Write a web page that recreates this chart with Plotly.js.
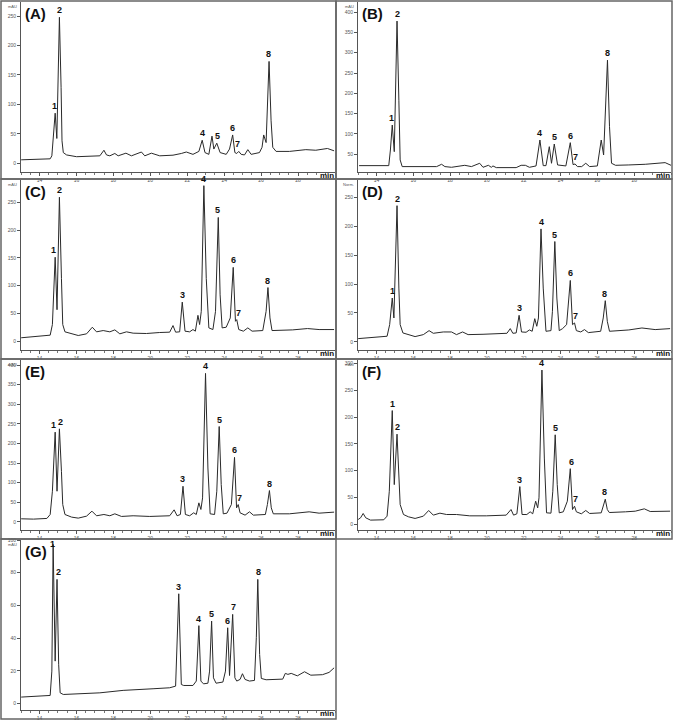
<!DOCTYPE html>
<html><head><meta charset="utf-8">
<script src="https://cdn.plot.ly/plotly-3.0.1.min.js"></script>
<style>html,body{margin:0;padding:0;background:#fff}#chart{width:673px;height:720px}</style>
</head><body><div id="chart"></div>
<script>
// ---- Panel A ----
const tA = [13.01,14.58,14.67,14.76,14.85,14.94,15.08,15.17,15.22,15.29,15.47,16.01,16.91,17.27,17.49,17.63,17.81,18.08,18.26,18.68,18.98,19.52,19.70,20.06,20.51,21.23,21.68,21.95,22.31,22.63,22.81,22.96,23.17,23.34,23.44,23.60,23.78,24.11,24.29,24.46,24.58,24.68,24.79,24.92,25.10,25.28,25.46,25.91,26.05,26.14,26.27,26.43,26.54,26.63,26.81,27.53,28.42,28.96,29.59,29.95];
const yA = [5.7,7.4,12.5,49,85,42,248,129,38,18,14,11,12,12.5,22,14,12.5,16.5,12.5,17,12.5,19,12.5,17,12.5,13.6,16.5,19,15,20,39,18,15,46,24,34,18,15,24,48,18,16.5,20,15,14,23,15,18,27,48,35,173,72,27,20,20,23,22,25,21];
const pkNumA = ["1","2","4","5","6","7","8"];
const pkTA = [14.80,15.06,22.81,23.62,24.46,24.74,26.41];
const pkHA = [85,248,39,34,48,20,173];

// ---- Panel B ----
const tB = [13.06,14.67,14.76,14.86,14.97,15.12,15.22,15.29,15.40,17.27,17.54,17.72,18.08,18.35,18.80,19.16,19.61,19.79,20.08,20.24,20.33,20.51,21.59,21.86,22.09,22.31,22.67,22.88,23.06,23.21,23.39,23.51,23.66,23.84,24.29,24.53,24.68,24.79,24.92,25.15,25.37,25.58,26.00,26.21,26.34,26.55,26.66,26.77,26.99,27.71,28.60,29.68,30.0];
const yB = [21.7,21.7,60.2,121.7,56.1,378,183,35.7,19.3,19.3,25,19.3,17.6,19.3,22.5,19.3,27.5,17.6,22.5,17.6,20.9,16.8,16.8,22.5,22.5,17.6,20.9,84.8,21.7,21.7,68.4,27.5,75,23.4,20.9,78.3,24.2,25.8,19.3,19.3,27.5,19.3,20.9,84.8,48,281.6,117.6,27.5,22.5,23.4,25,29.1,22.5];
const pkNumB = ["1","2","4","5","6","7","8"];
const pkTB = [14.80,15.12,22.88,23.68,24.55,24.83,26.55];
const pkHB = [121.7,378,84.8,75,78.3,25.8,281.6];

// ---- Panel C ----
const tC = [13.01,13.68,14.58,14.70,14.85,14.95,15.08,15.19,15.26,15.38,15.74,16.10,16.55,16.86,17.09,17.45,17.81,18.08,18.35,18.71,19.07,19.79,20.51,21.05,21.23,21.37,21.59,21.73,21.88,22.13,22.31,22.44,22.58,22.67,22.76,22.90,23.03,23.17,23.39,23.53,23.68,23.78,23.89,24.11,24.33,24.49,24.61,24.68,24.79,25.04,25.28,25.51,26.09,26.27,26.37,26.48,26.59,27.17,27.71,28.51,29.14,29.95];
const yC = [6,7.7,10.7,29.8,151,56.5,259,113,29.8,16.7,13.1,10.1,13.1,25,16.7,19,16.7,20.2,13.1,16.7,14.3,13.7,15.5,16.1,28,16.1,16.7,70.2,17.9,16.7,20.8,17.9,46.4,29.8,53.6,279.8,113,23.8,20.8,53.6,222.6,83.3,23.8,25,41.7,132.7,35.7,38.7,20.8,17.9,23.8,17.9,19,53.6,96.4,41.7,19,19,20.2,22.6,20.8,20.8];
const pkNumC = ["1","2","3","4","5","6","7","8"];
const pkTC = [14.78,15.06,21.72,22.90,23.66,24.51,24.75,26.35];
const pkHC = [151,259,70.2,279.8,222.6,132.7,38.7,96.4];

// ---- Panel D ----
const tD = [13.01,13.68,14.58,14.72,14.86,14.95,15.12,15.22,15.29,15.44,15.74,16.10,16.55,16.86,17.09,17.63,18.08,18.35,18.68,18.98,19.79,20.87,21.09,21.27,21.41,21.59,21.75,21.88,22.13,22.31,22.46,22.60,22.71,22.80,22.94,23.06,23.21,23.48,23.56,23.69,23.80,23.93,24.11,24.33,24.53,24.65,24.76,24.86,25.10,25.30,25.51,26.18,26.32,26.43,26.54,26.66,27.35,27.71,28.42,29.14,29.95];
const yD = [5.7,6.9,9.8,29.9,75.9,41.4,235.6,93.1,29.9,15.5,12.6,9.2,12.6,19.5,14.9,17.2,17.2,12.6,17.2,12.6,13.2,14.4,14.9,23,14.9,15.5,46,17.2,16.7,20.7,18.4,40.2,27,41.4,195.4,93.1,18.4,19.5,52.9,173.6,75.9,19.5,23,29.9,106.3,29.9,32.8,19.5,17.2,21.3,16.1,18.4,41.4,71.3,35.6,18.4,19.5,20.7,24.1,21.3,23];
const pkNumD = ["1","2","3","4","5","6","7","8"];
const pkTD = [14.86,15.12,21.75,22.94,23.69,24.55,24.83,26.41];
const pkHD = [75.9,235.6,46,195.4,173.6,106.3,32.8,71.3];

// ---- Panel E ----
const tE = [13.01,13.68,14.40,14.58,14.70,14.85,14.95,15.08,15.19,15.26,15.38,15.74,16.10,16.55,16.84,17.09,17.49,17.81,18.08,18.44,19.07,19.97,21.05,21.29,21.45,21.63,21.77,21.90,22.13,22.35,22.49,22.63,22.74,22.83,22.99,23.12,23.24,23.48,23.60,23.73,23.84,23.95,24.15,24.39,24.56,24.67,24.76,24.86,25.13,25.37,25.58,26.23,26.34,26.45,26.55,26.66,27.53,28.60,29.14,29.95];
const yE = [7.6,6.8,8.5,18.6,78,228.8,78,237.3,128.8,44,18.6,11.9,9.3,14.4,27.1,15.3,18.6,15.3,20.3,13.6,15.3,13.6,15.3,30.5,15.3,18.6,90.7,18.6,15.3,22.9,18.6,48.3,31.4,61,378.8,137.3,20.3,18.6,78,243.2,94.9,20.3,22,44,164.4,35.6,44,22.9,16.9,25.4,16.9,18.6,44,79.7,35.6,20.3,20.3,25.4,22,24.6];
const pkNumE = ["1","2","3","4","5","6","7","8"];
const pkTE = [14.78,15.12,21.77,22.99,23.73,24.56,24.83,26.45];
const pkHE = [228.8,237.3,90.7,378.8,243.2,164.4,44,79.7];

// ---- Panel F ----
const tF = [13.01,13.14,13.28,13.42,13.68,14.40,14.58,14.70,14.86,14.97,15.12,15.22,15.29,15.47,15.74,16.10,16.55,16.84,17.09,17.45,17.81,18.35,19.07,19.97,21.05,21.31,21.45,21.63,21.79,21.91,22.17,22.35,22.49,22.65,22.76,22.83,22.99,23.12,23.24,23.48,23.58,23.71,23.82,23.93,24.15,24.37,24.53,24.65,24.76,24.86,25.13,25.37,25.58,26.21,26.32,26.43,26.54,26.65,27.53,28.06,28.55,28.87,29.95];
const yF = [8.7,11.8,19.9,11.8,7.5,8.1,14.9,61.5,212.4,73.9,168.3,86.3,36.6,18,13.7,10.6,14.9,25.5,16.8,20.5,18,18,15.5,15.5,16.8,27.3,16.8,19.3,70.2,18,18,23,19.3,42.9,30.4,49.1,288.2,123.6,21.1,20.5,61.5,167.1,73.9,21.1,23,42.9,103.7,27.3,33.5,23,19.3,25.5,19.9,21.1,33.5,46.6,27.3,21.7,23,24.2,28.6,23.6,24.2];
const pkNumF = ["1","2","3","4","5","6","7","8"];
const pkTF = [14.86,15.15,21.79,22.99,23.71,24.58,24.83,26.41];
const pkHF = [212.4,168.3,70.2,288.2,167.1,103.7,33.5,46.6];

// ---- Panel G ----
const tG = [13.01,14.58,14.67,14.74,14.85,14.95,15.04,15.12,15.29,16.37,17.27,18.53,19.25,20.15,21.05,21.37,21.54,21.68,21.81,22.31,22.49,22.63,22.74,22.88,23.12,23.21,23.32,23.42,23.56,23.93,24.07,24.19,24.29,24.46,24.58,24.68,24.86,24.99,25.13,25.37,25.64,25.74,25.82,25.92,26.01,26.27,27.17,27.31,27.45,27.63,27.96,28.35,28.69,29.32,29.68,29.95];
const yG = [3.9,4.9,19.8,97.3,25.9,75.9,23.7,6.5,5.5,5.9,6.5,8,8.6,9,9.6,10.6,67.1,11.6,11,11,13.7,47.6,13.7,12,12.4,19.8,50.4,15.7,12.4,13.1,19.8,46.3,17.1,54.5,15.7,13.7,14.7,18.2,14.7,13.7,14.1,40.2,75.9,30,15.3,14.5,14.9,18.4,17.8,18.4,16.9,19.4,17.3,17.6,19,21.8];
const pkNumG = ["1","2","3","4","5","6","7","8"];
const pkTG = [14.71,15.04,21.52,22.63,23.34,24.16,24.48,25.84];
const pkHG = [93,75.9,67.1,47.6,50.4,46.3,54.5,75.9];

const panelLetters = ["(A)","(B)","(C)","(D)","(E)","(F)","(G)"];
const unitLabels = ["mAU","mAU","mAU","Norm.","mAU","mAU","mAU"];
const timeTicks = [14, 16, 18, 20, 22, 24, 26, 28];
const timeRange = [13, 30];
const yRanges = [[-15,274],[6,425],[-16,290],[-14,280],[-21,413],[-11,307],[-4,100]];
const yTickSteps = [50,50,50,50,50,50,20];

const series = [[tA,yA,pkNumA,pkTA,pkHA],[tB,yB,pkNumB,pkTB,pkHB],[tC,yC,pkNumC,pkTC,pkHC],
  [tD,yD,pkNumD,pkTD,pkHD],[tE,yE,pkNumE,pkTE,pkHE],[tF,yF,pkNumF,pkTF,pkHF],[tG,yG,pkNumG,pkTG,pkHG]];

const W = 673, H = 720;
// panel boxes in px: [x0,y0,x1,y1]
const boxes = [[1,1,336,179],[336,1,672,179],[1,179,336,359],[336,179,672,359],[1,359,336,539],[336,359,672,539],[1,539,336,719]];
// plot areas in px: [left, top, right, bottom]
const plots = [[21,2,335,172],[358,2,671,172],[21,180,335,350],[358,180,671,350],[21,360,335,530],[358,360,671,530],[21,540,335,710]];

const FONT = "Arial, 'Liberation Sans', sans-serif";
const data = [];
const layout = {
  width: W, height: H, margin: {l:0,r:0,t:0,b:0},
  paper_bgcolor: '#fff', plot_bgcolor: '#fff', showlegend: false,
  font: {family: FONT, color: '#222'},
  shapes: [], annotations: []
};

series.forEach((s, i) => {
  const n = i === 0 ? '' : String(i + 1);
  const xa = 'x' + n, ya = 'y' + n;
  data.push({x: s[0], y: s[1], xaxis: xa, yaxis: ya, type: 'scatter', mode: 'lines',
    line: {color: '#2a2a2a', width: 1}, hoverinfo: 'skip'});
  const p = plots[i];
  layout['xaxis' + n] = {
    domain: [p[0]/W, p[2]/W], anchor: ya, range: timeRange, tickmode: 'array', tickvals: timeTicks,
    showline: true, linecolor: '#555', linewidth: 1, ticks: 'outside', ticklen: 3, tickcolor: '#555',
    tickfont: {size: 5, color: '#555', family: FONT}, showgrid: false, zeroline: false,
    minor: {tickmode: 'linear', tick0: 0, dtick: 0.5, ticks: 'outside', ticklen: 2, tickcolor: '#777', showgrid: false}
  };
  layout['yaxis' + n] = {
    domain: [1 - p[3]/H, 1 - p[1]/H], anchor: xa, range: yRanges[i], dtick: yTickSteps[i], tick0: 0,
    showline: true, linecolor: '#555', linewidth: 1, ticks: 'outside', ticklen: 3, tickcolor: '#555',
    tickfont: {size: 5, color: '#555', family: FONT}, showgrid: false, zeroline: false
  };
  const b = boxes[i];
  layout.shapes.push({type: 'rect', xref: 'paper', yref: 'paper', x0: b[0]/W, x1: b[2]/W, y0: 1 - b[3]/H, y1: 1 - b[1]/H,
    line: {color: '#666', width: 1.5}, fillcolor: 'rgba(0,0,0,0)'});
  // panel letter
  layout.annotations.push({xref: 'paper', yref: 'paper', x: (p[0] + 2)/W, y: 1 - (b[1] + 2)/H,
    xanchor: 'left', yanchor: 'top', showarrow: false, text: '<b>' + panelLetters[i] + '</b>',
    font: {size: 15, family: FONT, color: '#111'}});
  // unit label
  layout.annotations.push({xref: 'paper', yref: 'paper', x: (p[0] - 2)/W, y: 1 - (b[1] + 1)/H,
    xanchor: 'right', yanchor: 'top', showarrow: false, text: unitLabels[i],
    font: {size: 4, family: FONT, color: '#555'}});
  // min label
  layout.annotations.push({xref: 'paper', yref: 'paper', x: p[2]/W, y: 1 - (p[3] + 3)/H,
    xanchor: 'right', yanchor: 'middle', showarrow: false, text: '<b>min</b>',
    font: {size: 8, family: FONT, color: '#111'}, borderpad: 0});
  // peak numbers
  s[2].forEach((lab, k) => {
    layout.annotations.push({xref: xa, yref: ya, x: s[3][k], y: s[4][k], text: '<b>' + lab + '</b>',
      showarrow: false, yanchor: 'bottom', yshift: 0, font: {size: 9, family: FONT, color: '#111'}});
  });
});

Plotly.newPlot('chart', data, layout, {displayModeBar: false, staticPlot: true});
</script></body></html>
